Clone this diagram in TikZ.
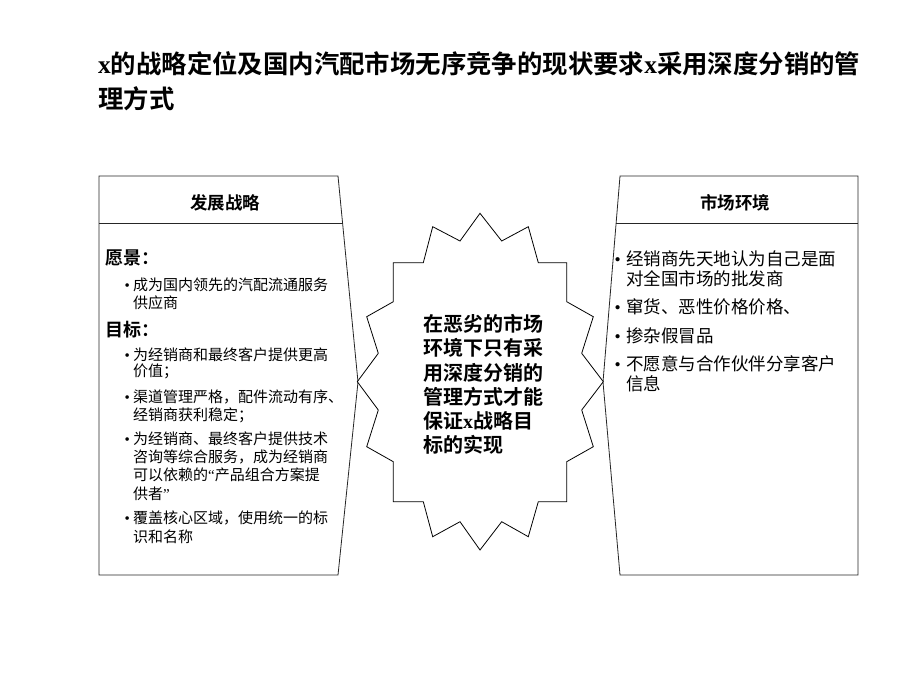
\documentclass[tikz,border=0pt]{standalone}
\usepackage{fontspec}
\setmainfont{Liberation Serif}
\newfontfamily\cjk[BoldFont={Noto Sans CJK SC Bold}]{Noto Sans CJK SC}
\newcommand{\latx}{{\rmfamily x}}
\newcommand{\lbul}{\makebox[8.5pt][l]{\rmfamily\textbullet}}
\newcommand{\rbul}{\makebox[11.5pt][l]{\rmfamily\textbullet}}
\tikzset{
  boxline/.style={draw=black!85, line width=0.8pt},
  starline/.style={draw=black, line width=0.8pt, fill=white},
  ttl/.style={inner sep=0pt, anchor=west, font=\cjk\bfseries\fontsize{25.4}{30}\selectfont},
  hdr/.style={inner sep=0pt, anchor=center, font=\cjk\bfseries\fontsize{17.5}{20}\selectfont},
  sub/.style={inner sep=0pt, anchor=west, font=\cjk\bfseries\fontsize{18}{20}\selectfont},
  ltxt/.style={inner sep=0pt, anchor=west, font=\cjk\fontsize{15}{18}\selectfont},
  rtxt/.style={inner sep=0pt, anchor=west, font=\cjk\fontsize{17.5}{20}\selectfont},
  stxt/.style={inner sep=0pt, anchor=west, font=\cjk\bfseries\fontsize{20}{24}\selectfont}
}
\begin{document}
\begin{tikzpicture}[x=1pt,y=-1pt]
\useasboundingbox[fill=white] (0,0) rectangle (920,690);

% title
\node[ttl] (t1) at (98,64) {\latx 的战略定位及国内汽配市场无序竞争的现状要求\latx 采用深度分销的管};
\node[ttl] (t2) at (98,99) {理方式};

% left box
\draw[boxline] (99,176) -- (338,176) -- (358,382) -- (338,575) -- (99,575) -- cycle;
\draw[boxline] (99,223) -- (342.6,223);
\node[hdr] (lh) at (225,203) {发展战略};
\node[sub] (vis) at (105,258.3) {愿景：};
\node[ltxt] (v1a) at (124.5,285) {\lbul 成为国内领先的汽配流通服务};
\node[ltxt] (v1b) at (133,302.5) {供应商};
\node[sub] (goal) at (105,330) {目标：};
\node[ltxt] (g1a) at (124.5,355) {\lbul 为经销商和最终客户提供更高};
\node[ltxt] (g1b) at (133,371.7) {价值；};
\node[ltxt] (g2a) at (124.5,396.7) {\lbul 渠道管理严格，配件流动有序、};
\node[ltxt] (g2b) at (133,415) {经销商获利稳定；};
\node[ltxt] (g3a) at (124.5,438.3) {\lbul 为经销商、最终客户提供技术};
\node[ltxt] (g3b) at (133,456.7) {咨询等综合服务，成为经销商};
\node[ltxt] (g3c) at (133,475) {可以依赖的{\rmfamily “}产品组合方案提};
\node[ltxt] (g3d) at (133,493.3) {供者{\rmfamily ”}};
\node[ltxt] (g4a) at (124.5,518.3) {\lbul 覆盖核心区域，使用统一的标};
\node[ltxt] (g4b) at (133,536.7) {识和名称};

% right box
\draw[boxline] (620,176) -- (858,176) -- (858,575) -- (620,575) -- (603,382) -- cycle;
\draw[boxline] (616,223) -- (858,223);
\node[hdr] (rh) at (735,203) {市场环境};
\node[rtxt] (r1a) at (614.5,259) {\rbul 经销商先天地认为自己是面};
\node[rtxt] (r1b) at (626,279) {对全国市场的批发商};
\node[rtxt] (r2) at (614.5,307) {\rbul 窜货、恶性价格价格、};
\node[rtxt] (r3) at (614.5,336) {\rbul 掺杂假冒品};
\node[rtxt] (r4a) at (614.5,364) {\rbul 不愿意与合作伙伴分享客户};
\node[rtxt] (r4b) at (626,384) {信息};

% star
\draw[starline] (480,213.3) -- (501.7,241) -- (528.3,226.7) -- (538.3,262.7) -- (566.7,262.7)
  -- (566.7,301.7) -- (593.3,316.7) -- (581.7,353.3) -- (603.3,381.7) -- (581.7,410)
  -- (593.3,446.7) -- (566.7,461.7) -- (566.7,501.7) -- (538.3,501.7) -- (528.3,536.7)
  -- (501.7,521.7) -- (480,550) -- (460,521.7) -- (432.7,536.7) -- (423.3,501.7)
  -- (393.3,501.7) -- (393.3,461.7) -- (366.7,446.7) -- (378.3,410) -- (357.3,381.7)
  -- (378.3,353.3) -- (366.7,316.7) -- (393.3,301.7) -- (393.3,262.7) -- (423.3,262.7)
  -- (432.7,226.7) -- (460,241) -- cycle;
\node[stxt] (s1) at (423,324) {在恶劣的市场};
\node[stxt] (s2) at (423,348.2) {环境下只有采};
\node[stxt] (s3) at (423,372.4) {用深度分销的};
\node[stxt] (s4) at (423,396.6) {管理方式才能};
\node[stxt] (s5) at (423,420.8) {保证\latx 战略目};
\node[stxt] (s6) at (423,445) {标的实现};
\end{tikzpicture}
\end{document}
